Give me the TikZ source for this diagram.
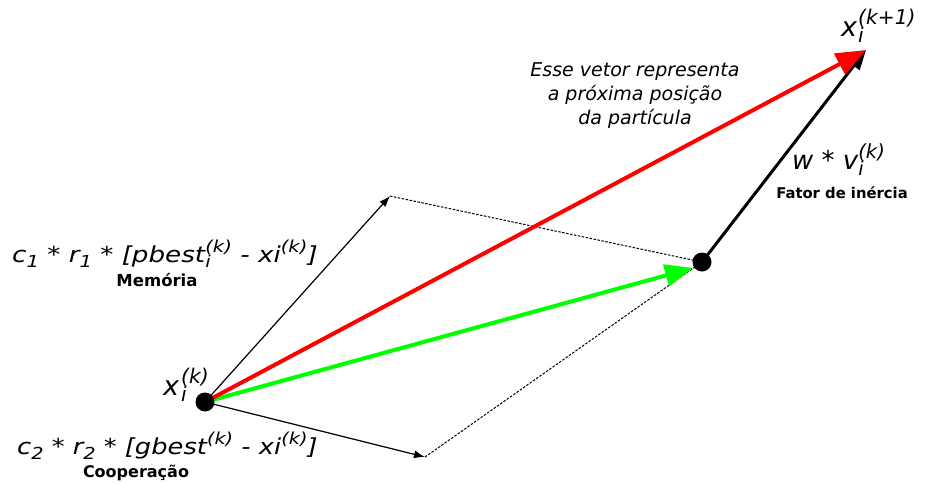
\documentclass[tikz,border=0pt]{standalone}
\usepackage{fontspec}
\setmainfont{DejaVu Sans}
\usetikzlibrary{arrows.meta}
\newcommand\sps[1]{\raisebox{0.42em}{\scalebox{0.75}{#1}}}
\newcommand\sbs[1]{\raisebox{-0.25em}{\scalebox{0.75}{#1}}}
\newcommand\ssub[2]{\rlap{\sbs{#2}}\sps{#1}}
\tikzset{
  dot/.style={circle,fill=black,inner sep=0pt,minimum size=19pt},
  thinvec/.style={line width=1.2pt,-{Latex[length=11pt,width=8pt]}},
  dotline/.style={line width=1pt,dash pattern=on 2.5pt off 1.5pt},
  lbl/.style={font=\fontsize{22}{26}\selectfont\itshape,inner sep=0pt},
  big/.style={font=\fontsize{27}{30}\selectfont\itshape,inner sep=0pt},
  bold/.style={font=\fontsize{15}{18}\selectfont\bfseries,inner sep=0pt},
}
\begin{document}
\begin{tikzpicture}[x=1pt,y=-1pt]
\useasboundingbox (0,0) rectangle (926,483);
\coordinate (O) at (205,402);
\coordinate (P) at (702,262);
\coordinate (M) at (390,196);
\coordinate (C) at (425,457);
\coordinate (T) at (866,50);
\coordinate (G) at (693,268);
\draw[thinvec] (O) -- (M);
\draw[thinvec] (O) -- (C);
\draw[dotline] (M) -- (P);
\draw[dotline] (C) -- (P);
\draw[line width=4pt,green,-{Triangle[length=28pt,width=22pt]}] (O) -- (G);
\draw[line width=3pt,black,-{Triangle[length=20pt,width=14pt]}] (P) -- (T);
\draw[line width=4pt,red,-{Triangle[length=30pt,width=23pt]}] (O) -- (T);
\node[dot] (o) at (O) {};
\node[dot] (p) at (P) {};
\node[align=center,inner sep=0pt,font=\fontsize{19}{24}\selectfont\itshape] (txt) at (635,96) {Esse vetor representa\\a próxima posição\\da partícula};
\node[big,anchor=base west] (xk1) at (841,36) {x\kern1pt\ssub{(k+1)}{i}};
\node[big,anchor=base west] (xk) at (163,395) {x\kern2pt\ssub{(k)}{i}};
\node[inner sep=0pt,font=\fontsize{26}{30}\selectfont\itshape,anchor=base west] (wv) at (792,169) {w * v\ssub{(k)}{i}};
\node[bold,font=\fontsize{14.8}{18}\selectfont\bfseries] (fi) at (842,193) {Fator de inércia};
\node[lbl,anchor=base west] (c1) at (12,262) {\scalebox{1.19}[1]{c\sbs{1} * r\sbs{1} * [pbest\ssub{(k)}{i} - xi\sps{(k)}]}};
\node[bold,font=\fontsize{16.5}{20}\selectfont\bfseries] (mem) at (157,280) {Memória};
\node[lbl,anchor=base west] (c2) at (17,454) {\scalebox{1.17}[1]{c\sbs{2} * r\sbs{2} * [gbest\sps{(k)} - xi\sps{(k)}]}};
\node[bold,font=\fontsize{16}{20}\selectfont\bfseries] (coop) at (136,473) {Cooperação};
\end{tikzpicture}
\end{document}
